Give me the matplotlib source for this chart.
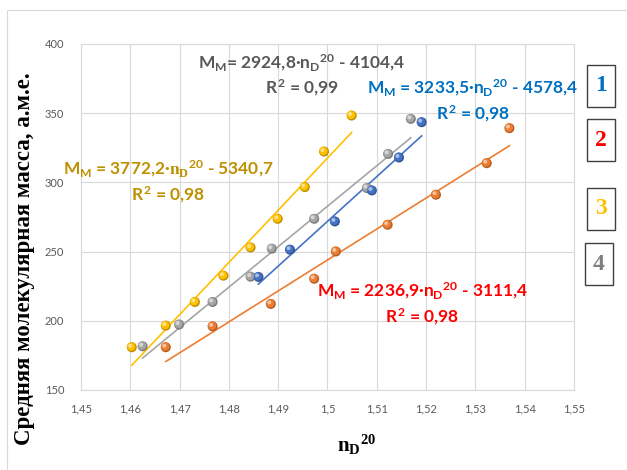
import numpy as np
import matplotlib
matplotlib.use("Agg")
import matplotlib.pyplot as plt
from matplotlib.patches import Rectangle
from matplotlib.transforms import offset_copy

plt.rcParams['font.family'] = ['Lato', 'DejaVu Sans']
plt.rcParams['mathtext.fontset'] = 'custom'
plt.rcParams['mathtext.rm'] = 'Lato:bold'
plt.rcParams['mathtext.it'] = 'Lato:bold'
plt.rcParams['mathtext.sf'] = 'Lato:bold'
plt.rcParams['mathtext.bf'] = 'Liberation Serif:bold'

# series 1 (blue)
n_blue = [1.4860, 1.4924, 1.5015, 1.5090, 1.5145, 1.5191]
m_blue = [231.7, 251.4, 271.8, 294.2, 318.0, 343.5]
# series 2 (orange / red label)
n_orange = [1.4672, 1.4767, 1.4885, 1.4973, 1.5017, 1.5122, 1.5220, 1.5323, 1.5369]
m_orange = [180.9, 196.0, 212.2, 230.4, 250.1, 269.4, 291.1, 313.9, 339.2]
# series 3 (yellow)
n_yellow = [1.4603, 1.4672, 1.4731, 1.4789, 1.4844, 1.4899, 1.4954, 1.4993, 1.5049]
m_yellow = [180.9, 196.5, 213.6, 232.6, 253.0, 273.7, 296.6, 322.3, 348.3]
# series 4 (gray)
n_gray = [1.4625, 1.4699, 1.4767, 1.4844, 1.4887, 1.4973, 1.5080, 1.5123, 1.5169]
m_gray = [181.6, 197.3, 213.6, 231.9, 252.1, 273.7, 295.9, 320.6, 345.9]

# trend line coefficients (slope, intercept) as printed on the chart
fit_blue = (3233.5, -4578.4)
fit_orange = (2236.9, -3111.4)
fit_yellow = (3772.2, -5340.7)
fit_gray = (2924.8, -4104.4)

x_ticks = [1.45, 1.46, 1.47, 1.48, 1.49, 1.50, 1.51, 1.52, 1.53, 1.54, 1.55]
x_labels = ["1,45", "1,46", "1,47", "1,48", "1,49", "1,5", "1,51", "1,52", "1,53", "1,54", "1,55"]
y_ticks = [150, 200, 250, 300, 350, 400]


def shade(color, f):
    c = np.array(matplotlib.colors.to_rgb(color))
    if f < 0:
        return tuple(c * (1 + f))
    return tuple(c + (1 - c) * f)


def plot_series(ax, fig, n, m, fit, color):
    xs = np.array([min(n), max(n)])
    ax.plot(xs, fit[0] * xs + fit[1], color=color, lw=1.2, zorder=2)
    ax.scatter(n, m, s=52, color=shade(color, -0.25), edgecolors='none', zorder=3)
    tr = offset_copy(ax.transData, fig=fig, x=-0.6, y=0.6, units='dots')
    ax.scatter(n, m, s=36, color=color, edgecolors='none', zorder=4, transform=tr)
    tr2 = offset_copy(ax.transData, fig=fig, x=-1.5, y=1.5, units='dots')
    ax.scatter(n, m, s=8, color=shade(color, 0.55), edgecolors='none', zorder=5, transform=tr2)


def main():
    fig = plt.figure(figsize=(6.27, 4.70), dpi=100)
    W, H = 627, 470
    ax = fig.add_axes([81 / W, 1 - 390 / H, (574 - 81) / W, (390 - 44) / H])

    fig.add_artist(Rectangle((7 / W, -0.1), 1.2, 1 - 10 / H + 0.1, transform=fig.transFigure,
                             fill=False, edgecolor='#D9D9D9', lw=0.8))

    plot_series(ax, fig, n_orange, m_orange, fit_orange, '#ED7D31')
    plot_series(ax, fig, n_gray, m_gray, fit_gray, '#A5A5A5')
    plot_series(ax, fig, n_blue, m_blue, fit_blue, '#4472C4')
    plot_series(ax, fig, n_yellow, m_yellow, fit_yellow, '#FFC000')

    ax.set_xlim(1.45, 1.55)
    ax.set_ylim(150, 400)
    ax.set_xticks(x_ticks)
    ax.set_xticklabels(x_labels)
    ax.set_yticks(y_ticks)
    ax.grid(True, color='#D9D9D9', lw=0.8)
    ax.set_axisbelow(True)
    for sp in ax.spines.values():
        sp.set_color('#D9D9D9')
        sp.set_linewidth(0.8)
    ax.tick_params(length=0, labelsize=8, labelcolor='#595959')
    ax.tick_params(axis='x', pad=10)
    ax.tick_params(axis='y', pad=12)

    fs = 12.5
    ax.text(1.4948, 386.3, r'$M_M$= 2924,8$·n_D{}^{20}$ - 4104,4', color='#595959', fontsize=fs,
            fontweight='bold', ha='center', va='center')
    ax.text(1.4948, 368.2, r'$R^2$ = 0,99', color='#595959', fontsize=fs,
            fontweight='bold', ha='center', va='center')
    ax.text(1.5295, 368.2, r'$M_M$ = 3233,5$·n_D{}^{20}$ - 4578,4', color='#0070C0', fontsize=fs,
            fontweight='bold', ha='center', va='center', clip_on=False)
    ax.text(1.5295, 349.4, r'$R^2$ = 0,98', color='#0070C0', fontsize=fs,
            fontweight='bold', ha='center', va='center')
    ax.text(1.4676, 309.0, r'$M_M$ = 3772,2$·\mathbf{n_D}{}^{20}$ - 5340,7', color='#BF9000', fontsize=fs,
            fontweight='bold', ha='center', va='center', clip_on=False)
    ax.text(1.4676, 290.9, r'$R^2$ = 0,98', color='#BF9000', fontsize=fs,
            fontweight='bold', ha='center', va='center')
    ax.text(1.5192, 221.5, r'$M_M$ = 2236,9$·n_D{}^{20}$ - 3111,4', color='#FF0000', fontsize=fs,
            fontweight='bold', ha='center', va='center')
    ax.text(1.5192, 202.8, r'$R^2$ = 0,98', color='#FF0000', fontsize=fs,
            fontweight='bold', ha='center', va='center')

    fig.text(25 / W, 1 - 259 / H, "Средняя молекулярная масса, а.м.е.", rotation=90,
             family='Liberation Serif', fontweight='bold', fontsize=16.5, ha='center', va='center')
    fig.text(357 / W, 1 - 445 / H, r'$\mathbf{n_D{}^{20}}$', fontsize=15, ha='center', va='center')

    boxes = [("1", '#0070C0', 587, 65), ("2", '#FF0000', 587, 119),
             ("3", '#FFC000', 587, 188), ("4", '#7F7F7F', 585, 243)]
    for label, col, bx, by in boxes:
        fig.add_artist(Rectangle((bx / W, 1 - (by + 42) / H), 28 / W, 42 / H,
                                 transform=fig.transFigure, fill=False,
                                 edgecolor='#404040', lw=1.0))
        fig.text((bx + 14) / W, 1 - (by + 21) / H, label, color=col, family='Liberation Serif',
                 fontweight='bold', fontsize=17, ha='center', va='center')

    fig.savefig("out.png", dpi=100)
    plt.close()


if __name__ == "__main__":
    main()
